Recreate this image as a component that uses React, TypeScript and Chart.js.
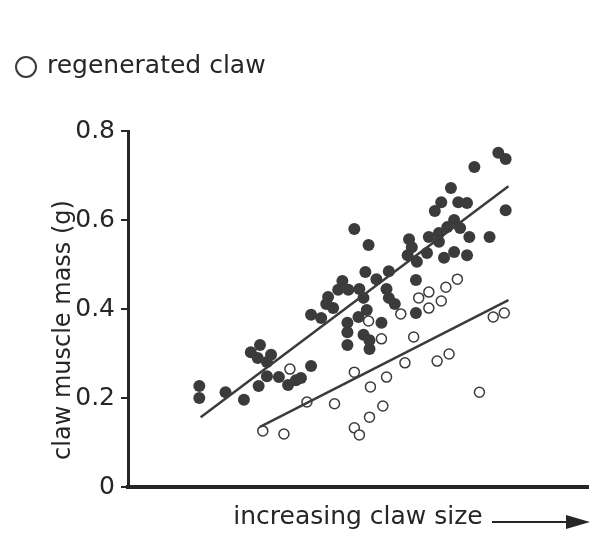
import { useEffect, useRef } from 'react';
import { Chart, registerables } from 'chart.js';

Chart.register(...registerables);

const FONT = '"DejaVu Sans", sans-serif';
const INK = '#262626';
const DOT = '#3b3b3b';

// original (intact) claw: claw size (arbitrary units) vs muscle mass (g)
const originalSize = [
  15.5, 15.5, 21.2, 25.2, 26.7, 28.7, 28.2, 31.1, 30.2, 30.2, 28.4, 32.8, 34.8, 36.5, 37.6,
  39.8, 39.8, 42.0, 43.5, 43.1, 44.6, 46.6, 45.7, 47.9, 50.3, 51.6, 49.2, 52.3, 54.0, 56.7,
  51.2, 51.9, 50.1, 47.7, 47.7, 47.7, 51.2, 52.5, 52.5, 55.1, 56.2, 56.7, 58.0, 60.8, 62.8,
  65.0, 68.7, 70.9, 73.7, 62.6, 62.6, 61.7, 61.1, 65.4, 67.6, 67.6, 66.7, 68.1, 70.2, 71.8,
  73.7, 70.9, 69.4, 72.2, 74.2, 78.6, 75.3, 80.5, 82.1, 82.1,
];
const originalMass = [
  0.227, 0.200, 0.213, 0.196, 0.303, 0.319, 0.290, 0.297, 0.281, 0.249, 0.227, 0.247, 0.229, 0.240, 0.245,
  0.272, 0.387, 0.380, 0.427, 0.411, 0.402, 0.463, 0.443, 0.443, 0.445, 0.483, 0.580, 0.544, 0.467, 0.485,
  0.425, 0.398, 0.382, 0.369, 0.348, 0.319, 0.342, 0.330, 0.310, 0.369, 0.445, 0.425, 0.411, 0.521, 0.506,
  0.526, 0.515, 0.528, 0.521, 0.465, 0.391, 0.539, 0.557, 0.562, 0.571, 0.551, 0.620, 0.640, 0.672, 0.640,
  0.638, 0.600, 0.584, 0.582, 0.562, 0.562, 0.719, 0.751, 0.737, 0.622,
];

// regenerated claw
const regenSize = [
  29.3, 33.9, 35.2, 38.9, 44.9, 49.2, 49.2, 50.3, 52.7, 52.5, 55.4, 56.2, 52.3, 55.1,
  59.3, 63.2, 65.4, 69.1, 71.6, 68.1, 65.4, 62.1, 60.2, 67.2, 69.8, 76.4, 79.4, 81.8,
];
const regenMass = [
  0.126, 0.119, 0.265, 0.191, 0.187, 0.258, 0.133, 0.117, 0.225, 0.157, 0.182, 0.247, 0.373, 0.333,
  0.389, 0.425, 0.438, 0.449, 0.467, 0.418, 0.402, 0.337, 0.279, 0.283, 0.299, 0.213, 0.382, 0.391,
];

// regression lines (end points)
const originalFitSize = [15.8, 82.7];
const originalFitMass = [0.157, 0.676];
const regenFitSize = [28.7, 82.7];
const regenFitMass = [0.135, 0.42];

const yTickValues = [0, 0.2, 0.4, 0.6, 0.8];
const yTickLabels = ['0', '0.2', '0.4', '0.6', '0.8'];

const originalLabel = 'original claw';
const regenLabel = 'regenerated claw';
const xTitle = 'increasing claw size';
const yTitle = 'claw muscle mass (g)';

const zip = (xs: number[], ys: number[]) => xs.map((x, i) => ({ x, y: ys[i] }));

const extrasPlugin = {
  id: 'extras',
  afterDraw(chart: any) {
    const { ctx } = chart;
    ctx.save();
    // y-axis title
    ctx.save();
    ctx.translate(64, 330);
    ctx.rotate(-Math.PI / 2);
    ctx.font = `24px ${FONT}`;
    ctx.fillStyle = INK;
    ctx.textAlign = 'center';
    ctx.textBaseline = 'middle';
    ctx.fillText(yTitle, 0, 0);
    ctx.restore();

    // legend entry (regenerated claw)
    const ds = chart.data.datasets[1];
    ctx.beginPath();
    ctx.arc(26, 67, 10, 0, Math.PI * 2);
    ctx.fillStyle = '#ffffff';
    ctx.fill();
    ctx.lineWidth = 2;
    ctx.strokeStyle = ds.borderColor;
    ctx.stroke();
    ctx.font = `25px ${FONT}`;
    ctx.fillStyle = INK;
    ctx.textAlign = 'left';
    ctx.textBaseline = 'middle';
    ctx.fillText(ds.label, 47, 66);

    // arrow after x-axis title
    const xs = chart.scales.x;
    const ya = 522;
    ctx.beginPath();
    ctx.moveTo(492, ya);
    ctx.lineTo(570, ya);
    ctx.lineWidth = 2;
    ctx.strokeStyle = INK;
    ctx.stroke();
    ctx.beginPath();
    ctx.moveTo(xs.right + 2, ya);
    ctx.lineTo(xs.right - 22, ya - 7);
    ctx.lineTo(xs.right - 22, ya + 7);
    ctx.closePath();
    ctx.fillStyle = INK;
    ctx.fill();
    ctx.restore();
  },
};

export default function App() {
  const ref = useRef<HTMLCanvasElement | null>(null);

  useEffect(() => {
    if (!ref.current) return;
    const chart = new Chart(ref.current, {
      type: 'scatter',
      data: {
        datasets: [
          {
            label: originalLabel,
            data: zip(originalSize, originalMass),
            pointRadius: 6,
            pointHoverRadius: 6,
            backgroundColor: DOT,
            borderColor: DOT,
            borderWidth: 0,
            order: 4,
          },
          {
            label: regenLabel,
            data: zip(regenSize, regenMass),
            pointRadius: 5,
            pointHoverRadius: 5,
            backgroundColor: '#ffffff',
            borderColor: DOT,
            borderWidth: 1.5,
            order: 3,
          },
          {
            type: 'line',
            label: 'original fit',
            data: zip(originalFitSize, originalFitMass),
            borderColor: DOT,
            borderWidth: 2.5,
            pointRadius: 0,
            showLine: true,
            fill: false,
            order: 2,
          } as any,
          {
            type: 'line',
            label: 'regenerated fit',
            data: zip(regenFitSize, regenFitMass),
            borderColor: DOT,
            borderWidth: 2.5,
            pointRadius: 0,
            showLine: true,
            fill: false,
            order: 1,
          } as any,
        ],
      },
      options: {
        animation: false,
        responsive: true,
        maintainAspectRatio: false,
        layout: { padding: { top: 131, left: 0, right: 8, bottom: 0 } },
        plugins: {
          legend: { display: false },
          tooltip: { enabled: false },
        },
        scales: {
          x: {
            type: 'linear',
            min: 0,
            max: 100,
            grid: { display: false },
            border: { display: true, width: 4, color: INK },
            ticks: { display: false },
            title: {
              display: true,
              text: xTitle,
              color: INK,
              font: { family: FONT, size: 25 },
              padding: { top: 0, bottom: 2 },
            },
            afterFit: (s: any) => {
              s.height = 47;
            },
          },
          y: {
            type: 'linear',
            min: 0,
            max: 0.8,
            grid: {
              display: true,
              drawOnChartArea: false,
              drawTicks: true,
              tickLength: 7,
              lineWidth: 2,
              color: INK,
            },
            border: { display: true, width: 3, color: INK },
            ticks: {
              color: INK,
              padding: 6,
              font: { family: FONT, size: 25 },
              callback: (_v: any, i: number) => yTickLabels[i],
            },
            afterBuildTicks: (s: any) => {
              s.ticks = yTickValues.map((v) => ({ value: v }));
            },
            afterFit: (s: any) => {
              s.width = 128;
            },
          },
        },
      },
      plugins: [extrasPlugin],
    });
    return () => chart.destroy();
  }, []);

  return (
    <div style={{ position: 'fixed', left: 0, top: 0, width: 596, height: 534, background: '#fff' }}>
      <canvas ref={ref} />
    </div>
  );
}
